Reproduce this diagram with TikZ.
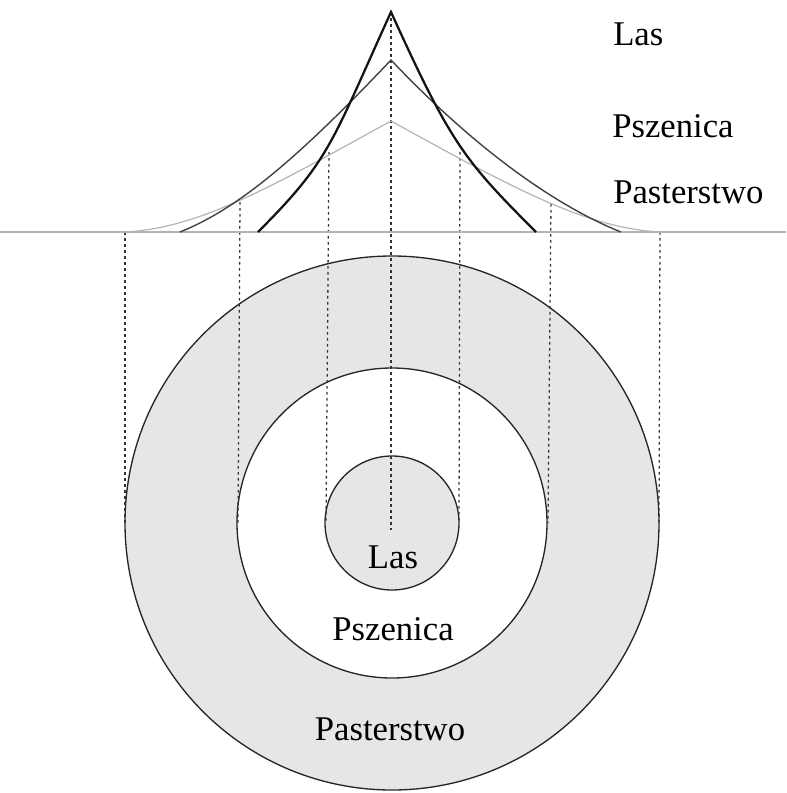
\documentclass[tikz,border=0pt]{standalone}
\usepackage{fontspec}
\setmainfont{Liberation Serif}
\definecolor{zonegray}{RGB}{230,230,230}
\definecolor{lasline}{RGB}{20,20,20}
\definecolor{pszline}{RGB}{65,65,65}
\definecolor{pastline}{RGB}{180,180,180}
\tikzset{
  rentlas/.style={draw=lasline, line width=1.7pt},
  rentpsz/.style={draw=pszline, line width=1.05pt},
  rentpast/.style={draw=pastline, line width=0.9pt},
  zonering/.style={draw=black!85, line width=1pt},
  guide/.style={draw=black!80, line width=0.95pt, dash pattern=on 2pt off 2.5pt},
  zonelabel/.style={inner sep=0pt, font=\rmfamily\fontsize{26}{30}\selectfont}
}
\begin{document}
\begin{tikzpicture}[x=0.75pt,y=0.75pt,yscale=-1,xscale=1]
\useasboundingbox (0,0) rectangle (786,793);
% points on the rent curves
\coordinate (axisL) at (0,232);
\coordinate (axisR) at (786,232);
\coordinate (topLas) at (391,12);
\coordinate (topPsz) at (391,60);
\coordinate (topPast) at (391,121);
\coordinate (cutLasL) at (329,152);
\coordinate (cutLasR) at (460,152);
\coordinate (cutPszL) at (240,202);
\coordinate (cutPszR) at (551,204);
\coordinate (endPastL) at (125,232);
\coordinate (endPastR) at (660,232);
% zones
\coordinate (mid) at (392,523);
\fill[zonegray] (mid) circle[radius=267];
\fill[white] (mid) circle[radius=155];
\fill[zonegray] (mid) circle[radius=67];
\draw[zonering] (mid) circle[radius=267];
\draw[zonering] (mid) circle[radius=155];
\draw[zonering] (mid) circle[radius=67];
\coordinate (rimPastL) at (125,523);
\coordinate (rimPastR) at (659,523);
\coordinate (rimPszL) at (238,523);
\coordinate (rimPszR) at (548,523);
\coordinate (rimLasL) at (326,523);
\coordinate (rimLasR) at (459,523);
\coordinate (rimMid) at (391,530);
% guide lines
\draw[guide] (topLas) -- (rimMid);
\draw[guide] (cutLasL) -- (rimLasL);
\draw[guide] (cutLasR) -- (rimLasR);
\draw[guide] (cutPszL) -- (rimPszL);
\draw[guide] (cutPszR) -- (rimPszR);
\draw[guide] (endPastL) -- (rimPastL);
\draw[guide] (endPastR) -- (rimPastR);
% rent curves
\draw[draw=pastline, line width=0.9pt] (axisL) -- (axisR);
\draw[rentpast] (endPastL) .. controls (200,228) and (271,187) .. (topPast)
  .. controls (511,187) and (585,228) .. (endPastR);
\draw[rentpsz] (180,232) .. controls (240,208) and (301,155) .. (topPsz)
  .. controls (481,155) and (561,208) .. (621,232);
\draw[rentlas] (258,232) .. controls (330,160) and (331,144) .. (topLas)
  .. controls (451,144) and (464,160) .. (536,232);
% labels
\node[zonelabel, anchor=base west] (labLasTop) at (613,45) {Las};
\node[zonelabel, anchor=base west] (labPszTop) at (612,137) {Pszenica};
\node[zonelabel, anchor=base west] (labPastTop) at (613,203) {Pasterstwo};
\node[zonelabel, anchor=base] (labLas) at (393,568) {Las};
\node[zonelabel, anchor=base] (labPsz) at (393,640) {Pszenica};
\node[zonelabel, anchor=base] (labPast) at (390,740) {Pasterstwo};
\end{tikzpicture}
\end{document}
